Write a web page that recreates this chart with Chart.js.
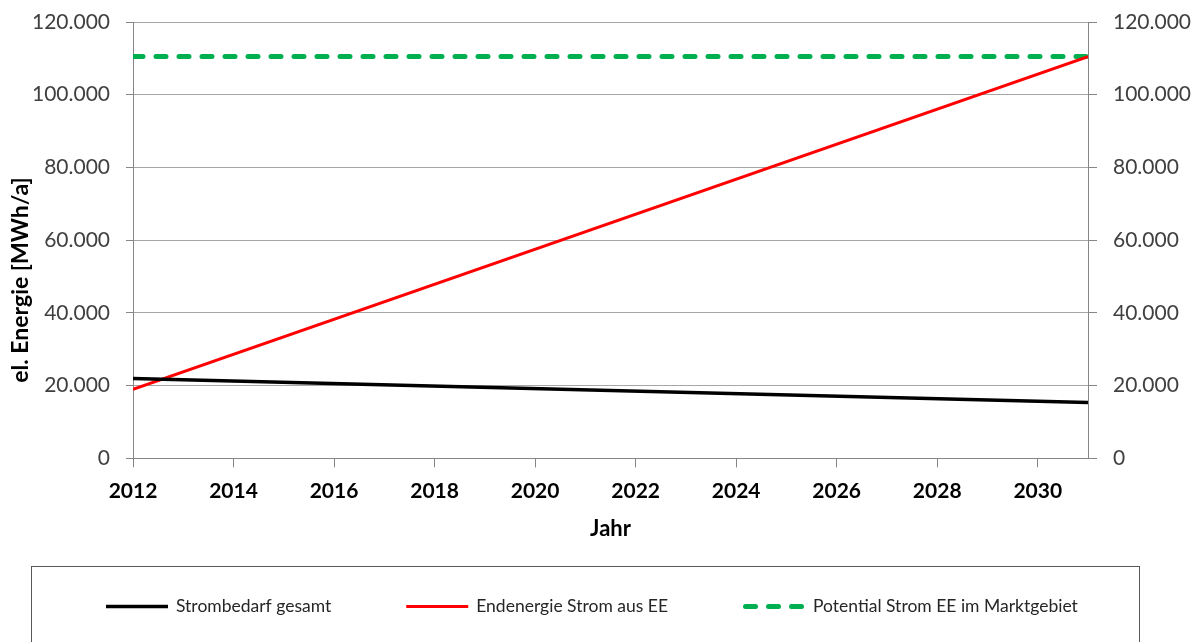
<!DOCTYPE html>
<html>
<head>
<meta charset="utf-8">
<script src="https://cdn.jsdelivr.net/npm/chart.js@4/dist/chart.umd.min.js"></script>
<style>
  html, body { margin: 0; padding: 0; background: #fff; overflow: hidden; }
  canvas { display: block; }
</style>
</head>
<body>
<canvas id="c" width="1199" height="642"></canvas>
<script>
// Years and annual electricity values (MWh/a)
const years = [2012, 2031];
const strombedarfGesamt = [22000, 15400];
const endenergieStromEE = [19000, 110500];
const potentialStromEE = [110500, 110500];

const yearTicks = [2012, 2014, 2016, 2018, 2020, 2022, 2024, 2026, 2028, 2030];
const energyTicks = [0, 20000, 40000, 60000, 80000, 100000, 120000];

const seriesLabels = ['Strombedarf gesamt', 'Endenergie Strom aus EE', 'Potential Strom EE im Marktgebiet'];
const axisTitleY = 'el. Energie [MWh/a]';
const axisTitleX = 'Jahr';

const FONT = 'Lato, "Open Sans", sans-serif';
const GRID = '#a6a6a6';
const AXIS = '#868686';

const toPoints = vals => years.map((x, i) => ({ x, y: vals[i] }));
const thousands = v => String(v).replace(/\B(?=(\d{3})+(?!\d))/g, '.');

// Value axes keep a fixed width and no extra label overhang
const fixAxis = width => s => {
  s.width = width;
  s.paddingTop = 0;
  s.paddingBottom = 0;
};

// Rotated caption for the left value axis
const yAxisCaption = {
  id: 'yAxisCaption',
  afterDraw(chart) {
    const ctx = chart.ctx;
    ctx.save();
    ctx.translate(21, 280);
    ctx.rotate(-Math.PI / 2);
    ctx.font = `bold 23px ${FONT}`;
    ctx.fillStyle = '#000';
    ctx.textAlign = 'center';
    ctx.textBaseline = 'middle';
    ctx.fillText(axisTitleY, 0, 0);
    ctx.restore();
  }
};

// Framed legend row below the plot, styled from each dataset
const boxedLegend = {
  id: 'boxedLegend',
  afterDraw(chart) {
    const ctx = chart.ctx;
    ctx.save();
    ctx.strokeStyle = '#595959';
    ctx.lineWidth = 1;
    ctx.strokeRect(31.5, 566.5, 1108, 120);
    ctx.font = `17.5px ${FONT}`;
    ctx.textBaseline = 'middle';
    const y = 606.5;
    let x = 106;
    chart.data.datasets.forEach(ds => {
      ctx.save();
      ctx.strokeStyle = ds.borderColor;
      ctx.lineWidth = ds.borderWidth;
      ctx.setLineDash(ds.borderDash || []);
      ctx.lineCap = ds.borderCapStyle || 'butt';
      const inset = ds.borderCapStyle === 'round' ? ds.borderWidth / 2 : 0;
      ctx.beginPath();
      ctx.moveTo(x + inset, y);
      ctx.lineTo(x + 62 - inset, y);
      ctx.stroke();
      ctx.restore();
      ctx.fillStyle = '#262626';
      ctx.fillText(ds.label, x + 70, y);
      x += 70 + ctx.measureText(ds.label).width + 75;
    });
    ctx.restore();
  }
};

new Chart(document.getElementById('c'), {
  type: 'line',
  data: {
    datasets: [
      {
        label: seriesLabels[0],
        data: toPoints(strombedarfGesamt),
        borderColor: '#000000',
        borderWidth: 3.5,
        pointRadius: 0
      },
      {
        label: seriesLabels[1],
        data: toPoints(endenergieStromEE),
        borderColor: '#ff0000',
        borderWidth: 3,
        pointRadius: 0
      },
      {
        label: seriesLabels[2],
        data: toPoints(potentialStromEE),
        borderColor: '#00b050',
        borderWidth: 5,
        borderDash: [10, 13],
        borderCapStyle: 'round',
        pointRadius: 0
      }
    ]
  },
  options: {
    responsive: false,
    animation: false,
    layout: { padding: { top: 22, bottom: 100, left: 0, right: 0 } },
    plugins: {
      legend: { display: false },
      tooltip: { enabled: false }
    },
    scales: {
      x: {
        type: 'linear',
        position: 'bottom',
        min: years[0],
        max: years[years.length - 1],
        afterBuildTicks: s => { s.ticks = yearTicks.map(v => ({ value: v })); },
        ticks: {
          callback: v => String(v),
          font: { family: FONT, size: 21, weight: 'bold' },
          color: '#000',
          padding: 11,
          maxRotation: 0,
          autoSkip: false
        },
        grid: { drawOnChartArea: false, tickLength: 9, color: AXIS },
        border: { color: AXIS, width: 1 },
        title: {
          display: true,
          text: axisTitleX,
          font: { family: FONT, size: 22, weight: 'bold' },
          color: '#000',
          padding: { top: 1, bottom: 0 }
        }
      },
      y: {
        position: 'left',
        min: 0,
        max: 120000,
        afterBuildTicks: s => { s.ticks = energyTicks.map(v => ({ value: v })); },
        afterFit: fixAxis(133),
        ticks: {
          callback: v => thousands(v),
          font: { family: FONT, size: 21 },
          color: '#404040',
          padding: 16
        },
        grid: { color: GRID, tickColor: AXIS, tickLength: 7 },
        border: { color: AXIS, width: 1 }
      },
      y2: {
        position: 'right',
        min: 0,
        max: 120000,
        afterBuildTicks: s => { s.ticks = energyTicks.map(v => ({ value: v })); },
        afterFit: fixAxis(111),
        ticks: {
          callback: v => thousands(v),
          font: { family: FONT, size: 21 },
          color: '#404040',
          padding: 16
        },
        grid: { drawOnChartArea: false, tickColor: AXIS, tickLength: 9 },
        border: { color: AXIS, width: 1 }
      }
    }
  },
  plugins: [yAxisCaption, boxedLegend]
});
</script>
</body>
</html>
